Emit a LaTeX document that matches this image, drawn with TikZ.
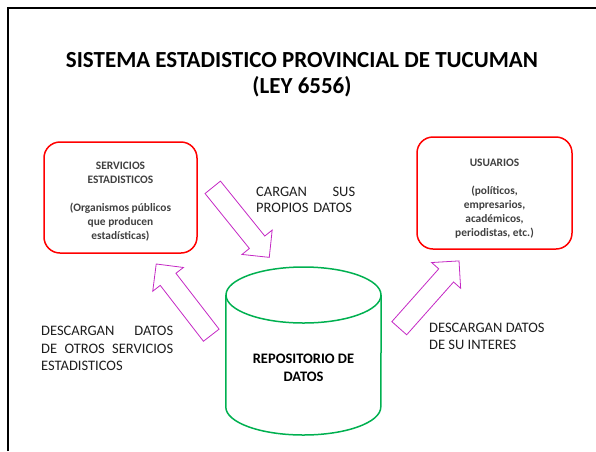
\documentclass[tikz,border=0pt]{standalone}
\usepackage{fontspec}
\setmainfont{Carlito}
\usetikzlibrary{shapes.geometric,shapes.arrows,positioning}
\definecolor{boxred}{RGB}{255,0,0}
\definecolor{repogreen}{RGB}{0,176,80}
\definecolor{flowpurple}{RGB}{196,40,196}
\definecolor{boxgray}{RGB}{64,64,64}
\definecolor{labelgray}{RGB}{30,30,30}
\begin{document}
\begin{tikzpicture}[x=1pt, y=-1pt]
    \tikzstyle{box} = [rectangle, draw=boxred, line width=1.5pt, rounded corners=16pt, text=boxgray, font=\fontsize{11.4}{14}\selectfont\bfseries, align=center]
    \tikzstyle{repo} = [draw=repogreen, line width=1.5pt]
    \tikzstyle{flow} = [single arrow, draw=flowpurple, line width=0.8pt, inner sep=9.5pt, minimum height=90pt, single arrow head extend=9.5pt, anchor=tail]
    \tikzstyle{note} = [text=labelgray, font=\fontsize{14.5}{17}\selectfont, align=left, inner sep=0pt, anchor=north west]
    \useasboundingbox (0,0) rectangle (596,451);
    \draw [line width=1.5pt] (8,451) -- (8,8) -- (596,8);

    \node (title) [font=\fontsize{23}{26}\selectfont\bfseries, align=center] at (302,75) {SISTEMA ESTADISTICO PROVINCIAL DE TUCUMAN\\(LEY 6556)};

    \node (servicios) [box, minimum width=153pt, minimum height=111pt] at (120.5,197.5) {\rule{0pt}{16pt}SERVICIOS\\ESTADISTICOS\\[14pt](Organismos públicos\\que producen\\estadísticas)};
    \node (usuarios) [box, minimum width=155pt, minimum height=112pt] at (494.5,193) {\rule{0pt}{18pt}USUARIOS\\[14pt](políticos,\\empresarios,\\académicos,\\periodistas, etc.)};

    % cilindro del repositorio
    \node (repositorio) [minimum width=155pt, minimum height=168pt, inner sep=0pt] at (303.5,351) {};
    \draw [repo] (repositorio.west |- 0,295) -- (repositorio.west |- 0,407)
        arc[start angle=180, end angle=360, x radius=77.5pt, y radius=28pt] -- (repositorio.east |- 0,295);
    \draw [repo] (303.5,295) ellipse [x radius=77.5pt, y radius=28pt];
    \node (repotext) [font=\fontsize{14.5}{18}\selectfont\bfseries, align=center] at (303.5,368) {REPOSITORIO DE\\DATOS};

    % flechas huecas
    \node (cargan) [flow, rotate=-51.1] at (212.5,187) {};
    \node (descargan) [flow, rotate=127.7] at (211.5,335.5) {};
    \node (interes) [flow, rotate=48.4] at (399,328.5) {};

    \node (cargantxt) [note, text width=99pt, font=\fontsize{14.5}{16}\selectfont] at (256,187) {CARGAN\hfill SUS\\PROPIOS DATOS};
    \node (descargantxt) [note, text width=132pt, font=\fontsize{14.5}{17.5}\selectfont] at (41,326) {DESCARGAN\hfill DATOS\\DE\hfill OTROS\hfill SERVICIOS\\ESTADISTICOS};
    \node (interestxt) [note] at (429,323) {DESCARGAN DATOS\\DE SU INTERES};
\end{tikzpicture}
\end{document}
